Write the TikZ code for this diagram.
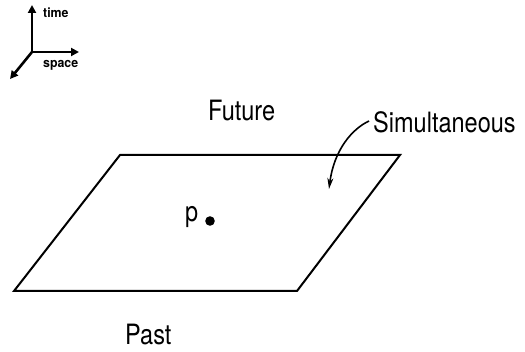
\documentclass[tikz,border=0pt]{standalone}
\usepackage{fontspec}
\setmainfont{TeX Gyre Heros}[FakeStretch=0.84]
\newfontfamily\axfont{TeX Gyre Heros}[FakeStretch=0.95]
\usetikzlibrary{arrows.meta}
\tikzset{
  lbl/.style={font=\fontsize{28}{30}\selectfont, inner sep=0pt, anchor=base west},
  axlbl/.style={font=\axfont\bfseries\fontsize{13}{14}\selectfont, inner sep=0pt, anchor=base west},
  axline/.style={line width=2.6pt, -{Triangle[length=8pt,width=8pt]}},
  plane/.style={line width=2pt, line join=miter},
  pointer/.style={line width=1.6pt, -{Stealth[length=11pt,width=6pt]}}
}
\begin{document}
\begin{tikzpicture}[x=1pt,y=-1pt]
\useasboundingbox (0,0) rectangle (525,352);
% axes
\coordinate (o) at (32,52);
\coordinate (tt) at (32,5);
\coordinate (st) at (79,52);
\coordinate (dt) at (10,79);
\draw[axline] (o) -- (tt);
\draw[axline] (o) -- (st);
\draw[axline] (o) -- (dt);
\node[axlbl] (time) at (43,18) {time};
\node[axlbl] (space) at (43,68) {space};
% plane
\coordinate (a) at (120,155);
\coordinate (b) at (400,155);
\coordinate (c) at (297,291);
\coordinate (d) at (14,291);
\draw[plane] (a) -- (b) -- (c) -- (d) -- cycle;
% labels
\node[lbl] (future) at (208,121) {Future};
\node[lbl] (simul) at (373,133) {Simultaneous};
\node[lbl] (past) at (125,345) {Past};
\node[lbl] (p) at (185,222) {p};
\fill (210,221) circle (4.8) coordinate (pt);
% pointer
\coordinate (ps) at (369,121);
\coordinate (pe) at (329,189);
\draw[pointer] (ps) .. controls (352,129) and (334,150) .. (pe);
\end{tikzpicture}
\end{document}
